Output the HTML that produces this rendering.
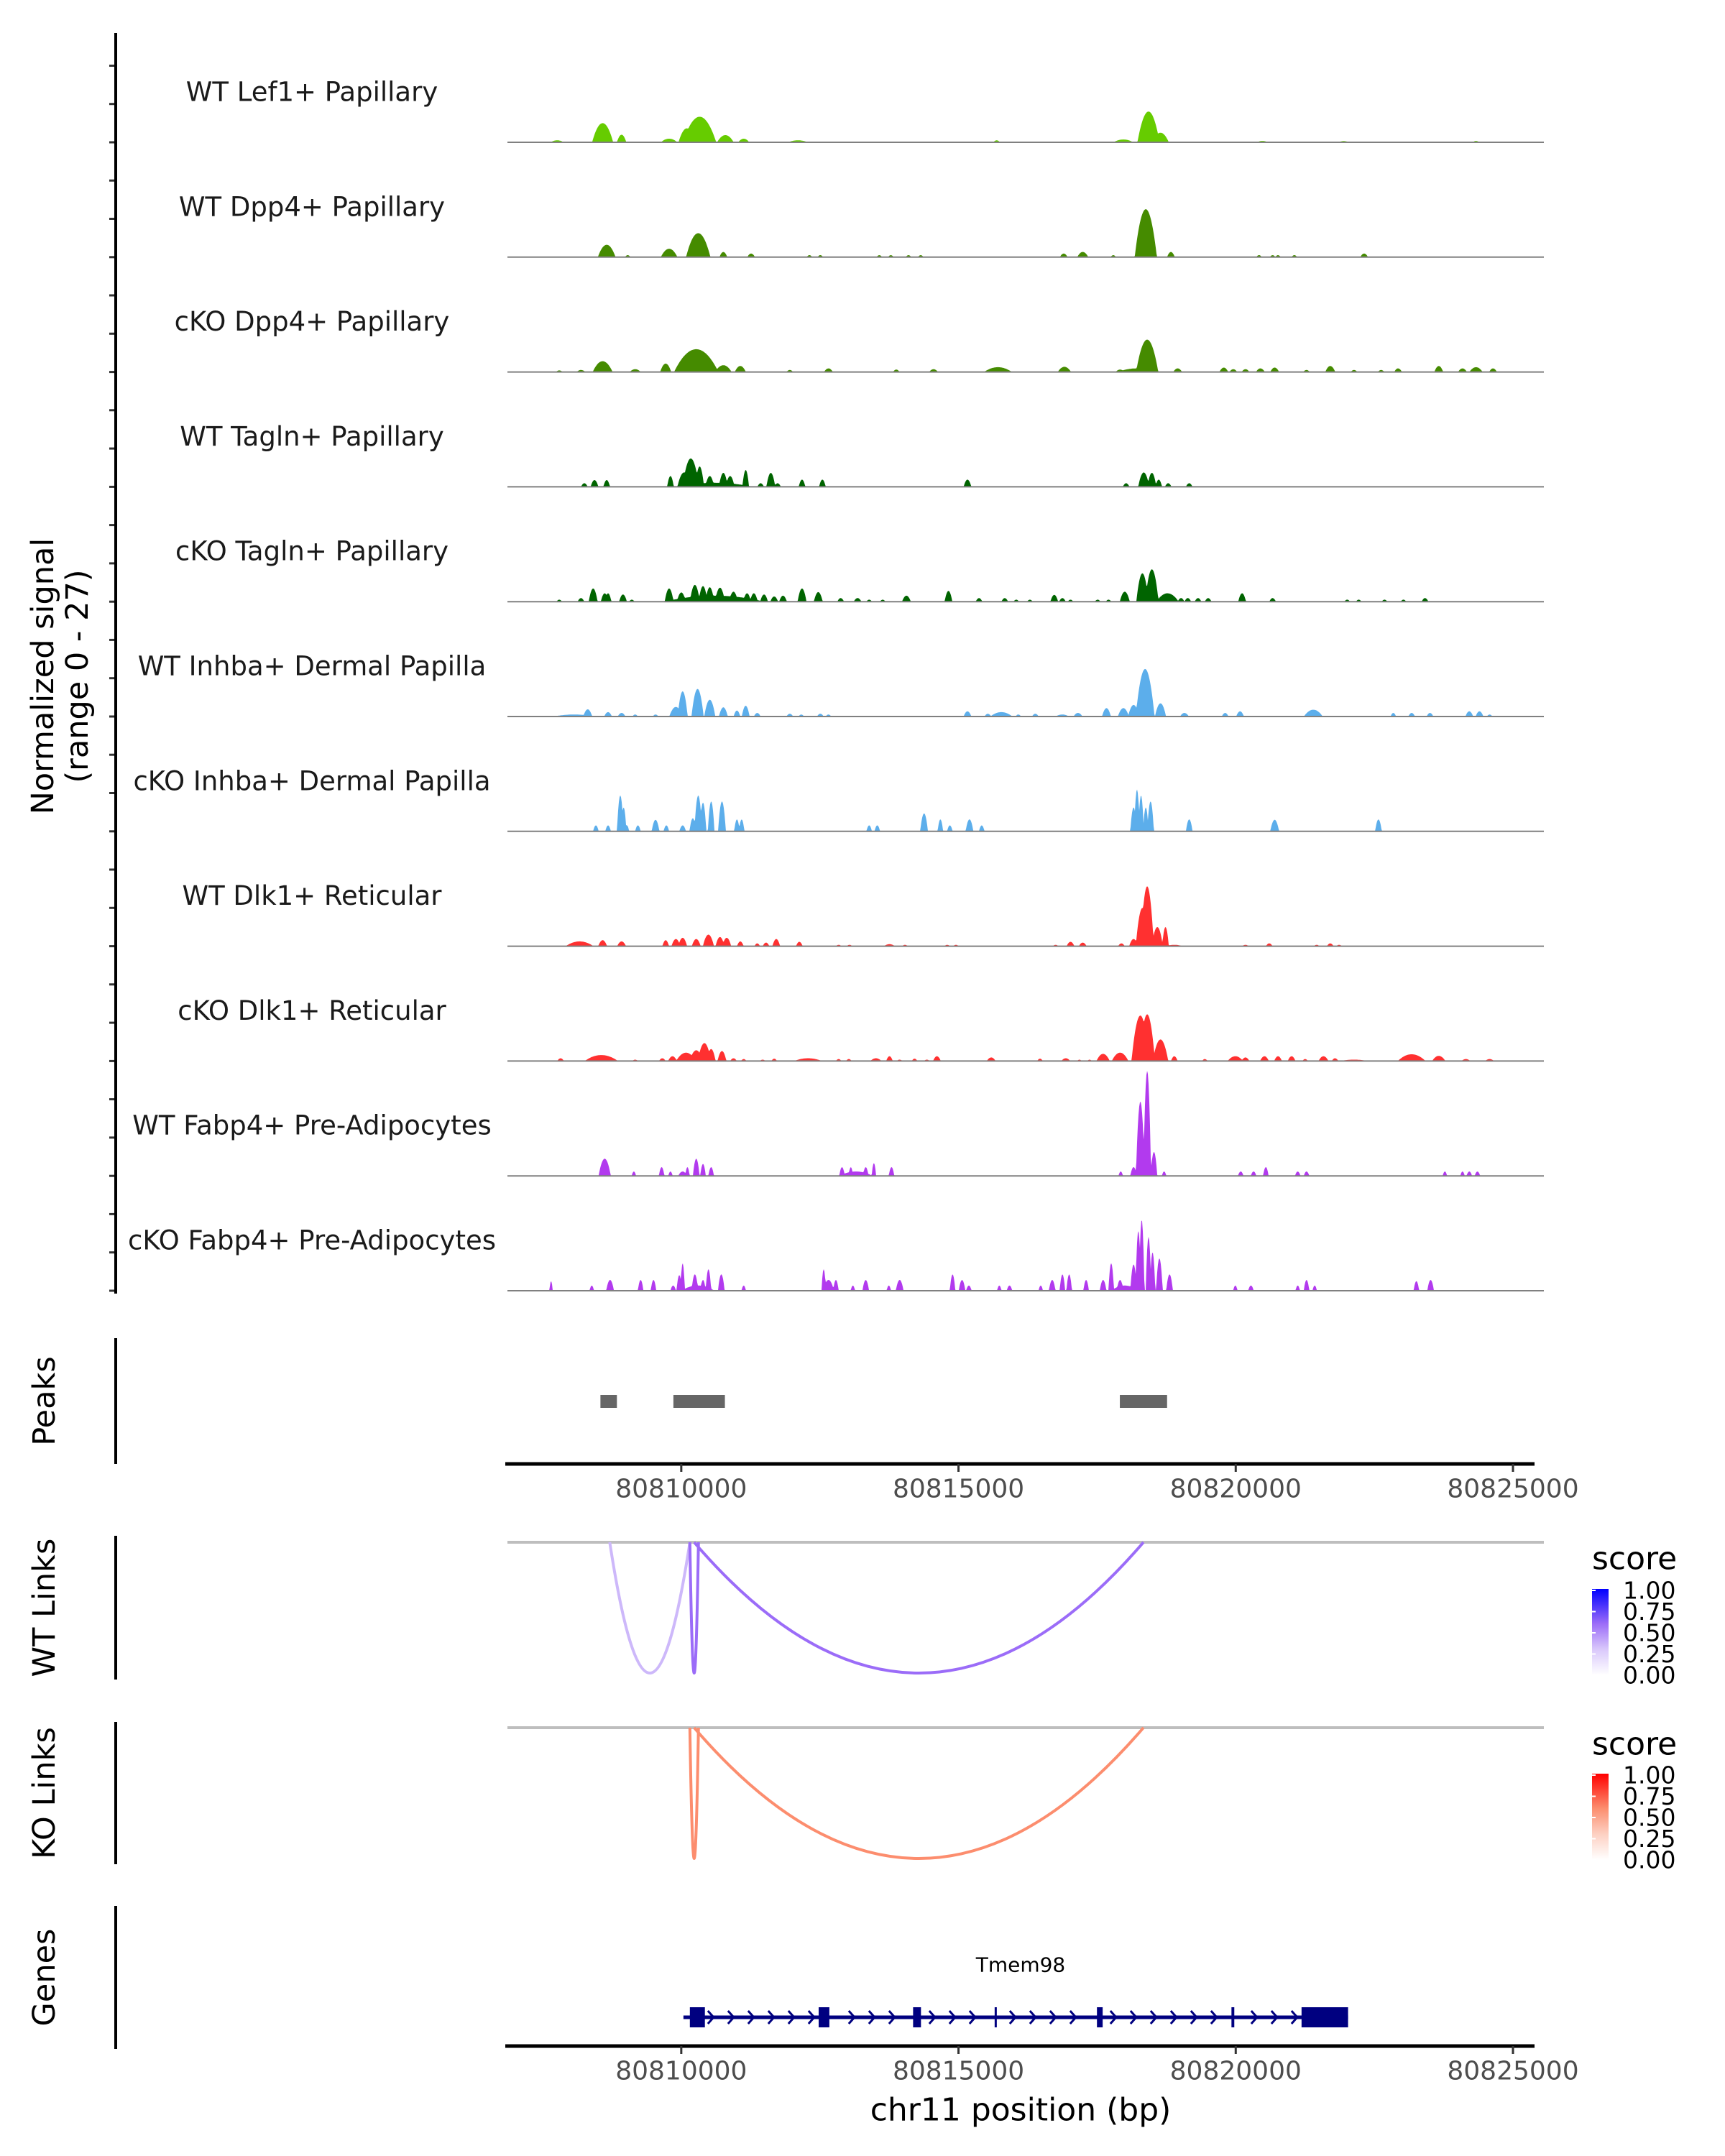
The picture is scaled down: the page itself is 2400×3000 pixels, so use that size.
<!DOCTYPE html>
<html><head><meta charset="utf-8"><style>
html,body{margin:0;padding:0;background:#fff}
svg{display:block}
text{font-family:"DejaVu Sans","Liberation Sans",sans-serif}
</style></head><body>
<svg id="chart" xmlns="http://www.w3.org/2000/svg" width="2400" height="3000" viewBox="0 0 2400 3000">
<defs>
<linearGradient id="gWT" x1="0" y1="1" x2="0" y2="0"><stop offset="0" stop-color="#ffffff"/><stop offset="0.3" stop-color="#d9c8fb"/><stop offset="0.6" stop-color="#9b6cf8"/><stop offset="1" stop-color="#0000ff"/></linearGradient>
<linearGradient id="gKO" x1="0" y1="1" x2="0" y2="0"><stop offset="0" stop-color="#ffffff"/><stop offset="0.3" stop-color="#fdd0c2"/><stop offset="0.6" stop-color="#fc8d6e"/><stop offset="1" stop-color="#ff0000"/></linearGradient>
</defs>
</svg>
<script>
// ---- data ----
const trackNames = ["WT Lef1+ Papillary","WT Dpp4+ Papillary","cKO Dpp4+ Papillary","WT Tagln+ Papillary","cKO Tagln+ Papillary","WT Inhba+ Dermal Papilla","cKO Inhba+ Dermal Papilla","WT Dlk1+ Reticular","cKO Dlk1+ Reticular","WT Fabp4+ Pre-Adipocytes","cKO Fabp4+ Pre-Adipocytes"];
const trackColors = ["#66cc00","#458b00","#458b00","#006400","#006400","#5caeeb","#5caeeb","#ff3030","#ff3030","#b23aee","#b23aee"];
// peaks: [center bp, half-width bp, normalized signal]
const wtLef1 = [[80807763,120,0.5],[80808582,190,4.8],[80808924,85,1.9],[80809781,150,0.9],[80810331,300,6.4],[80810100,150,3.5],[80810796,150,1.8],[80811126,100,0.9],[80812104,180,0.5],[80815688,60,0.5],[80817974,180,0.7],[80818427,200,7.7],[80818643,150,2.4],[80820481,100,0.35],[80821949,100,0.3],[80824334,60,0.35]];
const wtDpp4 = [[80808655,160,3.1],[80809034,50,0.5],[80809781,150,2.1],[80810306,220,6.0],[80810759,70,1.3],[80811260,70,0.9],[80812312,50,0.5],[80812508,50,0.5],[80813572,50,0.5],[80813780,50,0.5],[80814098,50,0.5],[80814318,50,0.5],[80816898,70,0.9],[80817241,100,1.3],[80817791,50,0.5],[80818378,200,12],[80818831,70,1.3],[80820420,50,0.5],[80820665,50,0.5],[80820763,50,0.5],[80821057,50,0.5],[80822316,70,0.9]];
const ckoDpp4 = [[80807800,60,0.4],[80808191,80,0.5],[80808582,180,2.7],[80809169,100,0.7],[80809719,100,2.1],[80810270,400,5.7],[80810759,150,1.7],[80811065,100,1.5],[80811957,60,0.5],[80812655,80,0.9],[80813878,60,0.6],[80814550,80,0.7],[80815712,250,1.2],[80816910,120,1.3],[80817914,80,0.6],[80818220,350,0.9],[80818403,200,8.1],[80818953,80,0.9],[80819785,80,1.1],[80819956,70,0.7],[80820176,70,0.7],[80820445,80,0.9],[80820702,80,1.1],[80821277,60,0.5],[80821705,90,1.5],[80822133,60,0.5],[80822622,60,0.5],[80822928,70,0.9],[80823662,80,1.5],[80824090,80,0.9],[80824334,120,1.2],[80824640,70,0.9]];
const wtTagln = [[80808252,60,0.9],[80808435,70,1.7],[80808655,60,1.7],[80809805,60,2.7],[80810050,120,3.6],[80810172,150,7.1],[80810331,80,5.1],[80810514,80,2.7],[80810759,80,3.5],[80810881,80,2.7],[80811162,60,4.2],[80810600,700,1.0],[80811432,60,0.9],[80811615,80,3.5],[80811737,60,0.9],[80812178,60,1.8],[80812545,60,1.8],[80815162,70,1.8],[80818023,60,0.9],[80818341,100,3.6],[80818488,80,3.5],[80818611,60,1.8],[80818782,60,0.9],[80819161,60,0.9]];
const ckoTagln = [[80807799,50,0.5],[80808191,60,0.9],[80808411,80,3.3],[80808619,70,2.1],[80808680,60,2.1],[80808949,70,1.8],[80809108,50,0.5],[80809781,80,3.3],[80810001,80,2.3],[80810245,90,4.2],[80810392,80,3.9],[80810514,80,3.6],[80810698,90,3.5],[80810942,80,2.5],[80811187,70,2.1],[80811309,70,2.1],[80811493,70,1.8],[80811676,70,1.3],[80811835,70,1.5],[80810600,900,1.5],[80812178,80,3.3],[80812471,80,2.4],[80812875,60,0.9],[80813180,70,0.9],[80813389,50,0.5],[80813633,50,0.5],[80814061,80,1.5],[80814819,70,2.7],[80815370,60,0.9],[80815834,60,0.9],[80816042,50,0.5],[80816287,50,0.5],[80816727,70,1.7],[80816874,60,0.9],[80817020,50,0.5],[80817510,50,0.5],[80817706,50,0.5],[80817999,90,2.5],[80818317,110,7.1],[80818488,120,8.1],[80818770,200,2.1],[80819014,60,0.9],[80819136,60,0.9],[80819320,60,0.9],[80819503,60,0.9],[80820115,70,2.1],[80820665,60,0.9],[80822010,50,0.5],[80822218,50,0.5],[80822683,50,0.5],[80823025,50,0.5],[80823414,60,0.9]];
const wtInhba = [[80808068,370,0.5],[80808313,80,1.8],[80808680,70,1.1],[80808924,70,0.9],[80809169,50,0.5],[80809536,50,0.5],[80809903,120,2.4],[80810025,90,6.3],[80810294,110,6.9],[80810514,100,4.2],[80810759,80,2.3],[80811004,60,1.5],[80811162,70,2.7],[80811370,60,0.9],[80811957,60,0.7],[80812165,50,0.5],[80812508,60,0.7],[80812655,50,0.5],[80815162,70,1.3],[80815529,60,0.7],[80815773,200,1.1],[80816079,50,0.5],[80816385,60,0.7],[80816873,120,0.5],[80817155,80,0.9],[80817669,80,2.1],[80817974,100,2.1],[80818158,100,2.9],[80818366,170,11.9],[80818643,100,3.3],[80819075,80,0.9],[80819809,60,0.9],[80820078,70,1.3],[80821399,170,1.7],[80822842,50,0.9],[80823173,60,0.9],[80823503,60,0.9],[80824212,70,1.3],[80824396,70,1.3],[80824579,50,0.5]];
const ckoInhba = [[80808460,50,1.5],[80808680,50,1.5],[80808900,60,9.0],[80808961,50,6.0],[80809020,40,1.5],[80809218,50,1.5],[80809536,70,2.9],[80809731,50,1.5],[80810025,60,1.5],[80810208,60,3.3],[80810306,70,9.0],[80810392,60,7.2],[80810539,60,7.5],[80810734,70,7.5],[80811004,50,3.0],[80811089,50,3.0],[80813389,50,1.5],[80813535,50,1.5],[80814379,70,4.5],[80814673,50,3.0],[80814844,50,1.5],[80815198,70,3.0],[80815419,50,1.5],[80818158,60,6.0],[80818219,50,10.5],[80818292,50,9.0],[80818378,50,6.0],[80818464,60,7.5],[80819161,60,3.0],[80820702,80,2.9],[80822574,60,3.0]];
const wtDlk1 = [[80808166,250,1.2],[80808582,80,1.5],[80808924,80,1.2],[80809719,60,1.5],[80809903,80,1.8],[80810025,80,2.1],[80810270,80,1.8],[80810490,100,2.9],[80810698,80,2.3],[80810820,80,2.1],[80811065,60,1.2],[80811370,50,0.7],[80811529,60,0.9],[80811713,70,1.8],[80812129,60,1.1],[80812838,50,0.35],[80813034,50,0.35],[80813755,100,0.5],[80814036,50,0.35],[80814795,50,0.35],[80814954,50,0.35],[80816751,50,0.35],[80817020,70,1.1],[80817241,70,0.9],[80817938,60,0.7],[80818158,80,1.8],[80818317,120,9.6],[80818403,120,15.0],[80818586,100,4.8],[80818733,60,4.8],[80818892,150,0.35],[80820176,60,0.35],[80820604,60,0.7],[80821460,50,0.35],[80821705,60,0.7],[80821864,50,0.35]];
const ckoDlk1 = [[80807824,60,0.7],[80808558,300,1.5],[80809169,50,0.35],[80809658,60,0.7],[80809842,80,1.2],[80810086,180,2.1],[80810270,120,2.7],[80810417,120,4.5],[80810539,80,3.0],[80810734,80,2.5],[80810942,60,0.7],[80811126,50,0.5],[80811468,50,0.35],[80811676,50,0.6],[80812287,250,0.7],[80812838,50,0.5],[80813022,50,0.5],[80813511,100,0.7],[80813755,60,1.2],[80813939,50,0.35],[80814208,50,0.6],[80814428,50,0.35],[80814611,70,1.2],[80815590,80,0.9],[80816470,50,0.6],[80816935,80,0.7],[80817180,40,0.35],[80817363,40,0.35],[80817608,120,1.8],[80817914,150,2.1],[80818280,160,11.4],[80818403,140,11.7],[80818643,140,5.4],[80818892,60,1.2],[80819443,50,0.5],[80819993,140,1.2],[80820176,70,0.9],[80820518,80,1.2],[80820763,70,1.2],[80821008,70,1.2],[80821252,50,0.5],[80821583,90,1.2],[80821791,60,0.7],[80822133,250,0.35],[80823173,250,1.7],[80823662,120,1.3],[80824151,80,0.5],[80824579,80,0.5]];
const wtFabp4 = [[80808619,110,4.3],[80809145,40,1.1],[80809646,50,2.2],[80809805,40,1.1],[80810025,80,1.1],[80810111,40,2.2],[80810270,60,4.3],[80810392,50,3.0],[80810539,50,2.2],[80813150,300,1.1],[80812899,50,2.2],[80813058,40,2.2],[80813327,50,2.2],[80813474,40,3.2],[80813792,50,2.2],[80817926,40,1.1],[80818158,60,2.2],[80818280,80,18.6],[80818403,70,26.3],[80818525,60,6.0],[80818708,40,1.1],[80820090,50,1.1],[80820322,50,1.1],[80820543,50,2.2],[80821118,50,1.1],[80821277,50,1.1],[80823772,40,1.1],[80824090,40,1.1],[80824212,50,1.1],[80824359,50,1.1]];
const ckoFabp4 = [[80807652,30,2.4],[80808386,40,1.3],[80808716,70,2.7],[80809267,50,2.7],[80809499,50,2.7],[80809854,50,1.3],[80809964,50,3.9],[80810025,40,6.9],[80810245,60,4.1],[80810392,50,2.7],[80810490,50,5.4],[80810722,60,4.1],[80810300,300,1.3],[80811126,40,1.3],[80812569,40,5.4],[80812655,100,2.7],[80812789,50,2.7],[80813095,40,1.3],[80813327,60,2.7],[80813743,40,1.3],[80813939,70,2.7],[80814893,50,4.1],[80815064,60,2.7],[80815187,50,1.3],[80815736,40,1.3],[80815920,50,1.3],[80816483,40,1.3],[80816690,60,2.7],[80816874,50,4.1],[80816996,50,4.1],[80817302,50,2.7],[80817608,60,2.7],[80817754,50,6.9],[80817914,60,2.7],[80818000,250,1.3],[80818158,60,6.6],[80818243,50,15.0],[80818304,50,17.8],[80818427,50,13.5],[80818500,50,9.6],[80818623,60,8.1],[80818806,60,4.1],[80819993,40,1.3],[80820274,50,1.3],[80821118,40,1.3],[80821277,50,2.7],[80821424,40,1.3],[80823258,50,2.4],[80823515,60,2.7]];
const trackData = [wtLef1,wtDpp4,ckoDpp4,wtTagln,ckoTagln,wtInhba,ckoInhba,wtDlk1,ckoDlk1,wtFabp4,ckoFabp4];
const peakStarts = [80808542,80809858,80817910];
const peakEnds = [80808839,80810787,80818762];
const wtLinkStarts = [80808710,80810155,80810232];
const wtLinkEnds = [80810155,80810310,80818336];
const wtLinkScores = [0.3,0.6,0.6];
const koLinkStarts = [80810155,80810232];
const koLinkEnds = [80810310,80818336];
const koLinkScores = [0.6,0.6];
const xTicks = [80810000,80815000,80820000,80825000];
const legendTicks = ["0.00","0.25","0.50","0.75","1.00"];
const geneStart = 80810039, geneEnd = 80822026;
const exonStarts = [80810155,80812478,80814181,80815652,80817497,80819923,80821187];
const exonEnds = [80810426,80812671,80814323,80815690,80817600,80819974,80822026];

// ---- scales ----
const X0 = 80806826, X1 = 80825389, PX0 = 703, PX1 = 2135;
function xs(bp){ return PX0 + (bp - X0) / (X1 - X0) * (PX1 - PX0); }
const YMAX = 27, TRACK_PX = 150;
function ys(v, base){ return base - v / YMAX * TRACK_PX; }
const LX0 = 706, LX1 = 2148;

const svg = document.getElementById('chart');
const NS = "http://www.w3.org/2000/svg";
function mk(tag, attrs, parent){ const e = document.createElementNS(NS, tag); for (const k in attrs) e.setAttribute(k, attrs[k]); (parent||svg).appendChild(e); return e; }
function txt(s, attrs, parent){ const e = mk('text', attrs, parent); e.textContent = s; return e; }

// ---- coverage tracks ----
const baseY0 = 198, trackStep = 159.8;
const gTracks = mk('g', {});


for (let i = 0; i < trackNames.length; i++) {
  const base = baseY0 + trackStep * i;
  const peaks = trackData[i];
  let d = 'M' + LX0 + ',' + base.toFixed(1);
  for (let px = LX0; px <= LX1; px += 1) {
    const bp = X0 + (px - PX0) / (PX1 - PX0) * (X1 - X0);
    let v = 0;
    for (const p of peaks) {
      const r = (bp - p[0]) / p[1];
      if (r > -1 && r < 1) { const f = p[2] * (1 - r * r); if (f > v) v = f; }
    }
    d += 'L' + px + ',' + ys(v, base).toFixed(1);
  }
  d += 'L' + LX1 + ',' + base.toFixed(1) + 'Z';
  const area = mk('path', {d: d, fill: trackColors[i], stroke: 'none'}, gTracks);
  
  
  const bl = mk('line', {x1: LX0, x2: LX1, y1: base, y2: base, stroke: '#808080', 'stroke-width': 2}, gTracks);
  
  
  const lb = txt(trackNames[i], {x: 434, y: base - 70, 'text-anchor': 'middle', 'dominant-baseline': 'central', 'font-size': 37, fill: '#1a1a1a'}, gTracks);
  
  
  for (let k = 0; k < 3; k++) {
    const ty = base - k * 53.3;
    const tk = mk('line', {x1: 152, x2: 161, y1: ty, y2: ty, stroke: '#333', 'stroke-width': 3}, gTracks);
    
    
  }
}
const yAxis = mk('line', {x1: 161, x2: 161, y1: 46, y2: 1800, stroke: '#000', 'stroke-width': 4});


const yt = txt('', {transform: 'translate(86,941) rotate(-90)', 'text-anchor': 'middle', 'font-size': 43, fill: '#000'});


const ts1 = mk('tspan', {x: 0, y: -12}, yt); ts1.textContent = 'Normalized signal';
const ts2 = mk('tspan', {x: 0, y: 36}, yt); ts2.textContent = '(range 0 - 27)';

// ---- side panel axes & titles ----
const panels = [['Peaks',1862,2037,'peaks-axis'],['WT Links',2137,2337,'wt-links-axis'],['KO Links',2396,2594,'ko-links-axis'],['Genes',2652,2851,'genes-axis']];
for (const p of panels) {
  const a = mk('line', {x1: 161, x2: 161, y1: p[1], y2: p[2], stroke: '#000', 'stroke-width': 4});
  
  
  const t = txt(p[0], {transform: 'translate(62,' + ((p[1] + p[2]) / 2) + ') rotate(-90)', 'text-anchor': 'middle', 'dominant-baseline': 'central', 'font-size': 43, fill: '#000'});
  
  
}

// ---- peaks ----
for (let i = 0; i < peakStarts.length; i++) {
  const r = mk('rect', {x: xs(peakStarts[i]), y: 1941, width: xs(peakEnds[i]) - xs(peakStarts[i]), height: 18, fill: '#666666'});
  
  
}

// ---- x axes ----
function xAxis(y, name) {
  const l = mk('line', {x1: PX0, x2: PX1, y1: y, y2: y, stroke: '#000', 'stroke-width': 5});
  
  
  for (const t of xTicks) {
    const tk = mk('line', {x1: xs(t), x2: xs(t), y1: y, y2: y + 11, stroke: '#333', 'stroke-width': 3});
    
    
    const tl = txt(String(t), {x: xs(t), y: y + 35, 'text-anchor': 'middle', 'dominant-baseline': 'central', 'font-size': 36, fill: '#4d4d4d'});
    
    
  }
}
xAxis(2037, 'peaks-x-axis');
xAxis(2847, 'genes-x-axis');
const xt = txt('chr11 position (bp)', {x: 1420, y: 2936, 'text-anchor': 'middle', 'dominant-baseline': 'central', 'font-size': 44, fill: '#000'});



// ---- links ----
function colorFor(score, stops) {
  for (let i = 1; i < stops.length; i++) {
    if (score <= stops[i][0]) {
      const a = stops[i-1], b = stops[i], f = (score - a[0]) / (b[0] - a[0]);
      const c = [0,1,2].map(k => Math.round(a[1][k] + (b[1][k] - a[1][k]) * f));
      return 'rgb(' + c.join(',') + ')';
    }
  }
  return 'rgb(' + stops[stops.length-1][1].join(',') + ')';
}
const wtStops = [[0,[255,255,255]],[0.3,[205,184,250]],[0.6,[155,108,248]],[1,[0,0,255]]];
const koStops = [[0,[255,255,255]],[0.3,[253,208,194]],[0.6,[252,141,110]],[1,[255,0,0]]];
function drawLinks(starts, ends, scores, top, stops, label) {
  const g = mk('line', {x1: LX0, x2: LX1, y1: top, y2: top, stroke: '#bebebe', 'stroke-width': 4});
  
  
  const depth = 182;
  for (let i = 0; i < starts.length; i++) {
    const a = xs(starts[i]), b = xs(ends[i]), cy = top + depth * 2;
    const p = mk('path', {d: 'M' + a + ',' + top + ' Q' + ((a + b) / 2) + ',' + cy + ' ' + b + ',' + top, fill: 'none', stroke: colorFor(scores[i], stops), 'stroke-width': 4});
    
    
  }
}
drawLinks(wtLinkStarts, wtLinkEnds, wtLinkScores, 2146, wtStops, 'wt-link');
drawLinks(koLinkStarts, koLinkEnds, koLinkScores, 2404, koStops, 'ko-link');

// ---- legends ----
function legend(titleY, barTop, grad, name) {
  const t = txt('score', {x: 2215, y: titleY, 'dominant-baseline': 'central', 'font-size': 44, fill: '#000'});
  
  
  const r = mk('rect', {x: 2215, y: barTop, width: 23, height: 120, fill: 'url(#' + grad + ')'});
  
  
  for (let i = 0; i < legendTicks.length; i++) {
    const y = barTop + 120 - i * 29.5;
    const l = txt(legendTicks[i], {x: 2258, y: y, 'dominant-baseline': 'central', 'font-size': 33, fill: '#000'});
    
    
    const tk = mk('line', {x1: 2215, x2: 2220, y1: y, y2: y, stroke: '#fff', 'stroke-width': 2});
    
    
  }
}
legend(2169, 2211, 'gWT', 'wt-legend');
legend(2427, 2468, 'gKO', 'ko-legend');

// ---- gene ----
const gy = 2807;
const gl = mk('line', {x1: xs(geneStart), x2: xs(geneEnd), y1: gy, y2: gy, stroke: '#000080', 'stroke-width': 5});


for (let px = xs(geneStart) + 10; px < xs(geneEnd) - 8; px += 28) {
  let inside = false;
  for (let i = 0; i < exonStarts.length; i++) if (px > xs(exonStarts[i]) - 8 && px < xs(exonEnds[i]) + 4) inside = true;
  if (inside) continue;
  const c = mk('polyline', {points: (px - 4) + ',' + (gy - 9) + ' ' + (px + 4) + ',' + gy + ' ' + (px - 4) + ',' + (gy + 9), fill: 'none', stroke: '#000080', 'stroke-width': 3});
  
  
}
for (let i = 0; i < exonStarts.length; i++) {
  const w = Math.max(3, xs(exonEnds[i]) - xs(exonStarts[i]));
  const e = mk('rect', {x: xs(exonStarts[i]), y: gy - 14, width: w, height: 28, fill: '#000080'});
  
  
}
const gn = txt('Tmem98', {x: 1420, y: 2734, 'text-anchor': 'middle', 'dominant-baseline': 'central', 'font-size': 28, fill: '#000'});


</script>
</body></html>
